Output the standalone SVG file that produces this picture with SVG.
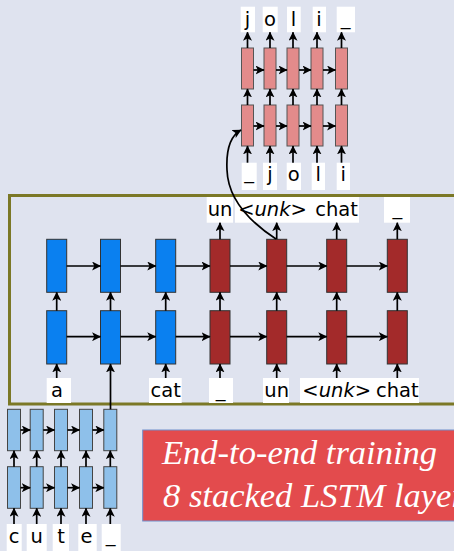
<svg xmlns="http://www.w3.org/2000/svg" width="454" height="551" viewBox="0 0 454 551">
<defs>
<marker id="ah" markerUnits="userSpaceOnUse" markerWidth="9" markerHeight="9" viewBox="0 0 8 8" refX="7.5" refY="4" orient="auto">
<path d="M0,0 L8,4 L0,8 L2,4 z" fill="#000"/>
</marker>
<style>
.ar{stroke:#000;stroke-width:1.7;fill:none;marker-end:url(#ah)}
.lb{fill:#fff}
.tx{font-family:"DejaVu Sans",sans-serif;font-size:19.5px;fill:#000;text-anchor:middle}
.it{font-style:italic}
.bl{fill:#0a80f0;stroke:#333;stroke-width:1}
.rd{fill:#a32a2a;stroke:#333;stroke-width:1}
.pk{fill:#e38b8b;stroke:#555;stroke-width:1}
.lbx{fill:#8ec0ea;stroke:#444;stroke-width:1}
.big{font-family:"Liberation Serif",serif;font-style:italic;font-size:34.5px;fill:#fff}
</style>
</defs>
<rect x="0" y="0" width="454" height="551" fill="#dfe3ef"/>

<!-- main frame -->
<rect id="frame" x="9.5" y="195.5" width="460" height="208.5" fill="none" stroke="#7b7826" stroke-width="3"/>

<!-- encoder/decoder main network nodes -->
<g id="main-top">
<rect class="bl" x="46.7" y="239.3" width="20" height="53"/>
<rect class="bl" x="100.5" y="239.3" width="20" height="53"/>
<rect class="bl" x="155.7" y="239.3" width="20" height="53"/>
<rect class="rd" x="210" y="239.3" width="20" height="53"/>
<rect class="rd" x="266.7" y="239.3" width="20" height="53"/>
<rect class="rd" x="326.7" y="239.3" width="20" height="53"/>
<rect class="rd" x="387.3" y="239.3" width="20" height="53"/>
</g>
<g id="main-bottom">
<rect class="bl" x="46.7" y="310.7" width="20" height="53.3"/>
<rect class="bl" x="100.5" y="310.7" width="20" height="53.3"/>
<rect class="bl" x="155.7" y="310.7" width="20" height="53.3"/>
<rect class="rd" x="210" y="310.7" width="20" height="53.3"/>
<rect class="rd" x="266.7" y="310.7" width="20" height="53.3"/>
<rect class="rd" x="326.7" y="310.7" width="20" height="53.3"/>
<rect class="rd" x="387.3" y="310.7" width="20" height="53.3"/>
</g>

<!-- main labels -->
<g id="main-in-labels">
<rect class="lb" x="46.7" y="378" width="24.3" height="25"/>
<text class="tx" x="57" y="397">a</text>
<rect class="lb" x="149" y="378" width="32.7" height="25"/>
<text class="tx" x="165.7" y="397">cat</text>
<rect class="lb" x="209" y="378" width="24" height="25"/>
<text class="tx" x="220.5" y="397">_</text>
<rect class="lb" x="263" y="378" width="26" height="25"/>
<text class="tx" x="276.7" y="397">un</text>
<rect class="lb" x="300" y="378" width="119" height="25"/>
<text class="tx it" x="336.7" y="397">&lt;unk&gt;</text>
<text class="tx" x="397.3" y="397">chat</text>
</g>
<g id="main-out-labels">
<rect class="lb" x="206.7" y="197" width="26.3" height="25.7"/>
<text class="tx" x="220" y="216">un</text>
<rect class="lb" x="235" y="197" width="124" height="25.7"/>
<text class="tx it" x="272.5" y="216">&lt;unk&gt;</text>
<text class="tx" x="336.5" y="216">chat</text>
<rect class="lb" x="384" y="197" width="26" height="25.7"/>
<text class="tx" x="397.3" y="215">_</text>
</g>

<!-- pink decoder nodes -->
<g id="pink-top">
<rect class="pk" x="241.5" y="48" width="12" height="41"/>
<rect class="pk" x="264" y="48" width="12" height="41"/>
<rect class="pk" x="287" y="48" width="12" height="41"/>
<rect class="pk" x="311" y="48" width="12" height="41"/>
<rect class="pk" x="335.5" y="48" width="12" height="41"/>
</g>
<g id="pink-bottom">
<rect class="pk" x="241.5" y="105" width="12" height="41"/>
<rect class="pk" x="264" y="105" width="12" height="41"/>
<rect class="pk" x="287" y="105" width="12" height="41"/>
<rect class="pk" x="311" y="105" width="12" height="41"/>
<rect class="pk" x="335.5" y="105" width="12" height="41"/>
</g>
<g id="pink-labels">
<rect class="lb" x="240.7" y="6.7" width="14.3" height="25.6"/>
<text class="tx" x="247.5" y="26">j</text>
<rect class="lb" x="262.7" y="6.7" width="15" height="25.6"/>
<text class="tx" x="270" y="26">o</text>
<rect class="lb" x="287" y="6.7" width="13.7" height="25.6"/>
<text class="tx" x="293.5" y="26">l</text>
<rect class="lb" x="312.7" y="6.7" width="13.3" height="25.6"/>
<text class="tx" x="319" y="26">i</text>
<rect class="lb" x="336.7" y="6.7" width="18.3" height="25.6"/>
<text class="tx" x="345.5" y="25">_</text>
<rect class="lb" x="241.7" y="162.7" width="15" height="27.3"/>
<text class="tx" x="249" y="179">_</text>
<rect class="lb" x="263" y="162.7" width="14" height="27.3"/>
<text class="tx" x="270" y="181">j</text>
<rect class="lb" x="286.7" y="162.7" width="14.3" height="27.3"/>
<text class="tx" x="293.8" y="181">o</text>
<rect class="lb" x="311.7" y="162.7" width="13.3" height="27.3"/>
<text class="tx" x="318.3" y="181">l</text>
<rect class="lb" x="336.7" y="162.7" width="13.3" height="27.3"/>
<text class="tx" x="343.3" y="181">i</text>
</g>

<!-- light blue encoder nodes -->
<g id="cute-top">
<rect class="lbx" x="7.5" y="409.3" width="13" height="41.4"/>
<rect class="lbx" x="30.2" y="409.3" width="13" height="41.4"/>
<rect class="lbx" x="54.5" y="409.3" width="13" height="41.4"/>
<rect class="lbx" x="79.5" y="409.3" width="13" height="41.4"/>
<rect class="lbx" x="103.8" y="409.3" width="13" height="41.4"/>
</g>
<g id="cute-bottom">
<rect class="lbx" x="7.5" y="466.7" width="13" height="41.6"/>
<rect class="lbx" x="30.2" y="466.7" width="13" height="41.6"/>
<rect class="lbx" x="54.5" y="466.7" width="13" height="41.6"/>
<rect class="lbx" x="79.5" y="466.7" width="13" height="41.6"/>
<rect class="lbx" x="103.8" y="466.7" width="13" height="41.6"/>
</g>
<g id="cute-labels">
<rect class="lb" x="6.7" y="524" width="15" height="27"/>
<text class="tx" x="14" y="543">c</text>
<rect class="lb" x="26.7" y="524" width="20" height="27"/>
<text class="tx" x="36.7" y="543">u</text>
<rect class="lb" x="52.7" y="524" width="16.3" height="27"/>
<text class="tx" x="61" y="543">t</text>
<rect class="lb" x="78.3" y="524" width="18.4" height="27"/>
<text class="tx" x="86.5" y="543">e</text>
<rect class="lb" x="101.7" y="524" width="19" height="27"/>
<text class="tx" x="110.5" y="542">_</text>
</g>

<!-- banner -->
<g id="banner">
<rect x="142.7" y="430" width="320" height="91" fill="#e34b4d" stroke="#7090cc" stroke-width="1"/>
<text class="big" x="162" y="464">End-to-end training</text>
<text class="big" x="163" y="507">8 stacked LSTM layers</text>
</g>

<!-- connectors -->
<g id="connectors">
<path class="ar" d="M66.7,266H100.5"/>
<path class="ar" d="M120.5,266H155.7"/>
<path class="ar" d="M175.7,266H210"/>
<path class="ar" d="M230,266H266.7"/>
<path class="ar" d="M286.7,266H326.7"/>
<path class="ar" d="M346.7,266H387.3"/>
<path class="ar" d="M66.7,336.7H100.5"/>
<path class="ar" d="M120.5,336.7H155.7"/>
<path class="ar" d="M175.7,336.7H210"/>
<path class="ar" d="M230,336.7H266.7"/>
<path class="ar" d="M286.7,336.7H326.7"/>
<path class="ar" d="M346.7,336.7H387.3"/>
<path class="ar" d="M56.7,310.7V292.3"/>
<path class="ar" d="M110.5,310.7V292.3"/>
<path class="ar" d="M165.7,310.7V292.3"/>
<path class="ar" d="M220,310.7V292.3"/>
<path class="ar" d="M276.7,310.7V292.3"/>
<path class="ar" d="M336.7,310.7V292.3"/>
<path class="ar" d="M397.3,310.7V292.3"/>
<path class="ar" d="M56.7,378V364"/>
<path class="ar" d="M110.5,409.3V364"/>
<path class="ar" d="M165.7,378V364"/>
<path class="ar" d="M220,378V364"/>
<path class="ar" d="M276.7,378V364"/>
<path class="ar" d="M336.7,378V364"/>
<path class="ar" d="M397.3,378V364"/>
<path class="ar" d="M220,239.3V222.7"/>
<path class="ar" d="M276.7,239.3V222.7"/>
<path class="ar" d="M336.7,239.3V222.7"/>
<path class="ar" d="M397.3,239.3V222.7"/>
<path class="ar" d="M276,239 C250,222 228,200 227,170 C226,150 230,136 241,130"/>
<path class="ar" d="M253.5,70H264"/>
<path class="ar" d="M276,70H287"/>
<path class="ar" d="M299,70H311"/>
<path class="ar" d="M323,70H335.5"/>
<path class="ar" d="M253.5,126H264"/>
<path class="ar" d="M276,126H287"/>
<path class="ar" d="M299,126H311"/>
<path class="ar" d="M323,126H335.5"/>
<path class="ar" d="M247.5,48V32.3"/>
<path class="ar" d="M270,48V32.3"/>
<path class="ar" d="M293,48V32.3"/>
<path class="ar" d="M317,48V32.3"/>
<path class="ar" d="M341.5,48V32.3"/>
<path class="ar" d="M247.5,105V89"/>
<path class="ar" d="M270,105V89"/>
<path class="ar" d="M293,105V89"/>
<path class="ar" d="M317,105V89"/>
<path class="ar" d="M341.5,105V89"/>
<path class="ar" d="M247.5,162.7V146"/>
<path class="ar" d="M270,162.7V146"/>
<path class="ar" d="M293,162.7V146"/>
<path class="ar" d="M317,162.7V146"/>
<path class="ar" d="M341.5,162.7V146"/>
<path class="ar" d="M20.5,430H30.2"/>
<path class="ar" d="M43.2,430H54.5"/>
<path class="ar" d="M67.5,430H79.5"/>
<path class="ar" d="M92.5,430H103.8"/>
<path class="ar" d="M20.5,487.7H30.2"/>
<path class="ar" d="M43.2,487.7H54.5"/>
<path class="ar" d="M67.5,487.7H79.5"/>
<path class="ar" d="M92.5,487.7H103.8"/>
<path class="ar" d="M14,466.7V450.7"/>
<path class="ar" d="M36.7,466.7V450.7"/>
<path class="ar" d="M61,466.7V450.7"/>
<path class="ar" d="M86,466.7V450.7"/>
<path class="ar" d="M110.3,466.7V450.7"/>
<path class="ar" d="M14,524V508.3"/>
<path class="ar" d="M36.7,524V508.3"/>
<path class="ar" d="M61,524V508.3"/>
<path class="ar" d="M86,524V508.3"/>
<path class="ar" d="M110.3,524V508.3"/>
</g>
</svg>
